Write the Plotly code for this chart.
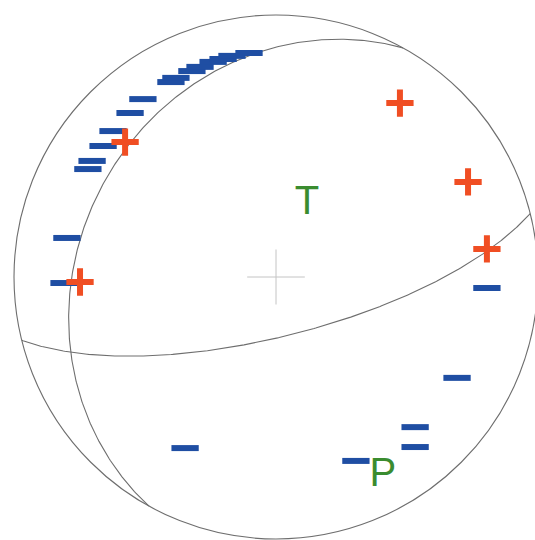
import numpy as np
import plotly.graph_objects as go

# Nodal planes (strike, dip in degrees, right-hand rule)
plane_strike = [209, 76]
plane_dip = [26, 71.5]

# First-motion polarities, projected positions on the unit focal sphere
# (lower hemisphere, equal-area)
dil_x = [-0.508, -0.557, -0.622, -0.660, -0.702, -0.718, -0.798, -0.809,
         0.805, 0.691, -0.347, 0.305, 0.531, 0.531,
         -0.401, -0.382, -0.321, -0.290, -0.240, -0.202, -0.168, -0.103]
dil_y = [0.679, 0.626, 0.557, 0.500, 0.443, 0.412, 0.149, -0.023,
         -0.042, -0.385, -0.653, -0.702, -0.573, -0.649,
         0.744, 0.760, 0.786, 0.802, 0.821, 0.832, 0.844, 0.855]

comp_x = [-0.576, -0.748, 0.473, 0.733, 0.805]
comp_y = [0.515, -0.019, 0.664, 0.363, 0.107]

# Stress axes labels
axis_labels = ["T", "P"]
axis_x = [0.118, 0.408]
axis_y = [0.280, -0.760]


def great_circle(strike, dip, n=361):
    s = np.radians(strike)
    d = np.radians(dip)
    dd = s + np.pi / 2
    t = np.linspace(0, np.pi, n)
    sv = np.array([np.sin(s), np.cos(s), 0.0])
    dv = np.array([np.cos(d) * np.sin(dd), np.cos(d) * np.cos(dd), -np.sin(d)])
    v = np.outer(np.cos(t), sv) + np.outer(np.sin(t), dv)
    plunge = np.arcsin(np.clip(-v[:, 2], -1, 1))
    trend = np.arctan2(v[:, 0], v[:, 1])
    r = np.sqrt(2) * np.sin((np.pi / 2 - plunge) / 2)
    return r * np.sin(trend), r * np.cos(trend)


fig = go.Figure()

line_col = "#6e6e6e"
for s, d in zip(plane_strike, plane_dip):
    gx, gy = great_circle(s, d)
    fig.add_trace(go.Scatter(x=gx, y=gy, mode="lines",
                             line=dict(color=line_col, width=1.1),
                             hoverinfo="skip", showlegend=False))

fig.add_trace(go.Scatter(
    x=dil_x, y=dil_y, mode="markers", showlegend=False,
    marker=dict(symbol="line-ew", size=19.5,
                line=dict(color="#1f4ea3", width=6))))

fig.add_trace(go.Scatter(
    x=comp_x, y=comp_y, mode="markers", showlegend=False,
    marker=dict(symbol="cross-thin", size=19.5,
                line=dict(color="#f04e23", width=6))))

fig.add_trace(go.Scatter(
    x=axis_x, y=axis_y, mode="text", text=axis_labels,
    textposition="middle center", showlegend=False,
    textfont=dict(family="Liberation Sans, Arial, sans-serif",
                  size=40, color="#3a8c2f")))

shapes = [
    dict(type="circle", xref="x", yref="y", x0=-1, y0=-1, x1=1, y1=1,
         line=dict(color=line_col, width=1.1), layer="below"),
    dict(type="line", xref="x", yref="y", x0=-0.11, y0=0, x1=0.11, y1=0,
         line=dict(color="#c4c4c4", width=1), layer="below"),
    dict(type="line", xref="x", yref="y", x0=0, y0=-0.105, x1=0, y1=0.105,
         line=dict(color="#c4c4c4", width=1), layer="below"),
]

fig.update_layout(
    width=535, height=540,
    margin=dict(l=0, r=0, t=0, b=0),
    paper_bgcolor="white", plot_bgcolor="white",
    shapes=shapes,
    xaxis=dict(range=[-276 / 262, 259 / 262], visible=False,
               showgrid=False, zeroline=False, fixedrange=True),
    yaxis=dict(range=[-263 / 262, 277 / 262], visible=False,
               showgrid=False, zeroline=False, fixedrange=True),
)

fig.write_html("out.html")
